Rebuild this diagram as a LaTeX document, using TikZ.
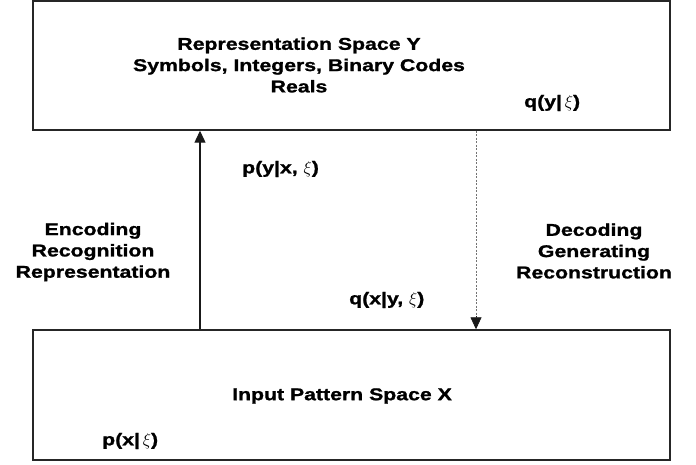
\documentclass[tikz,border=0pt]{standalone}
\usepackage{fontspec}
\setmainfont{Liberation Sans}[FakeStretch=1.25,BoldFeatures={FakeBold=1.2}]
\usetikzlibrary{arrows.meta}
\begin{document}
\begin{tikzpicture}[x=1pt,y=-1pt,
  font=\fontsize{17}{21.3}\selectfont\bfseries,
  spacebox/.style={draw=black!85,line width=1.4pt,minimum width=637pt,inner sep=0pt},
  lbl/.style={inner sep=0pt},
  tip/.style={-{Triangle[length=12pt,width=11pt]}}]
\useasboundingbox (0,0) rectangle (696,464);
\node[spacebox,minimum height=129pt] (Y) at (351.5,65.5) {};
\node[spacebox,minimum height=130pt] (X) at (351.5,395) {};
\node[lbl,align=center] (ytitle) at (299,65) {Representation Space Y\\Symbols, Integers, Binary Codes\\Reals};
\node[lbl,anchor=west] (qy) at (524,103) {q(y|\,$\xi$)};
\node[lbl,anchor=west] (pyx) at (242,169) {p(y|x, $\xi$)};
\node[lbl,align=center] (enc) at (93,252) {Encoding\\Recognition\\Representation};
\node[lbl,align=center] (dec) at (594,251) {Decoding\\Generating\\Reconstruction};
\node[lbl,anchor=west] (qxy) at (349,300) {q(x|y, $\xi$)};
\node[lbl] (xtitle) at (342,396) {Input Pattern Space X};
\node[lbl,anchor=west] (px) at (102,441) {p(x|\,$\xi$)};
\coordinate (ua) at (200,0);
\coordinate (da) at (476,0);
\draw[tip,line width=1.2pt,black!90] (ua |- X.north) -- (ua |- Y.south);
\draw[black!55,line width=0.7pt,dash pattern=on 2pt off 1.5pt] (da |- Y.south) -- ([yshift=10pt]da |- X.north);
\draw[tip,black!90,line width=0.7pt] ([yshift=13pt]da |- X.north) -- (da |- X.north);
\end{tikzpicture}
\end{document}
